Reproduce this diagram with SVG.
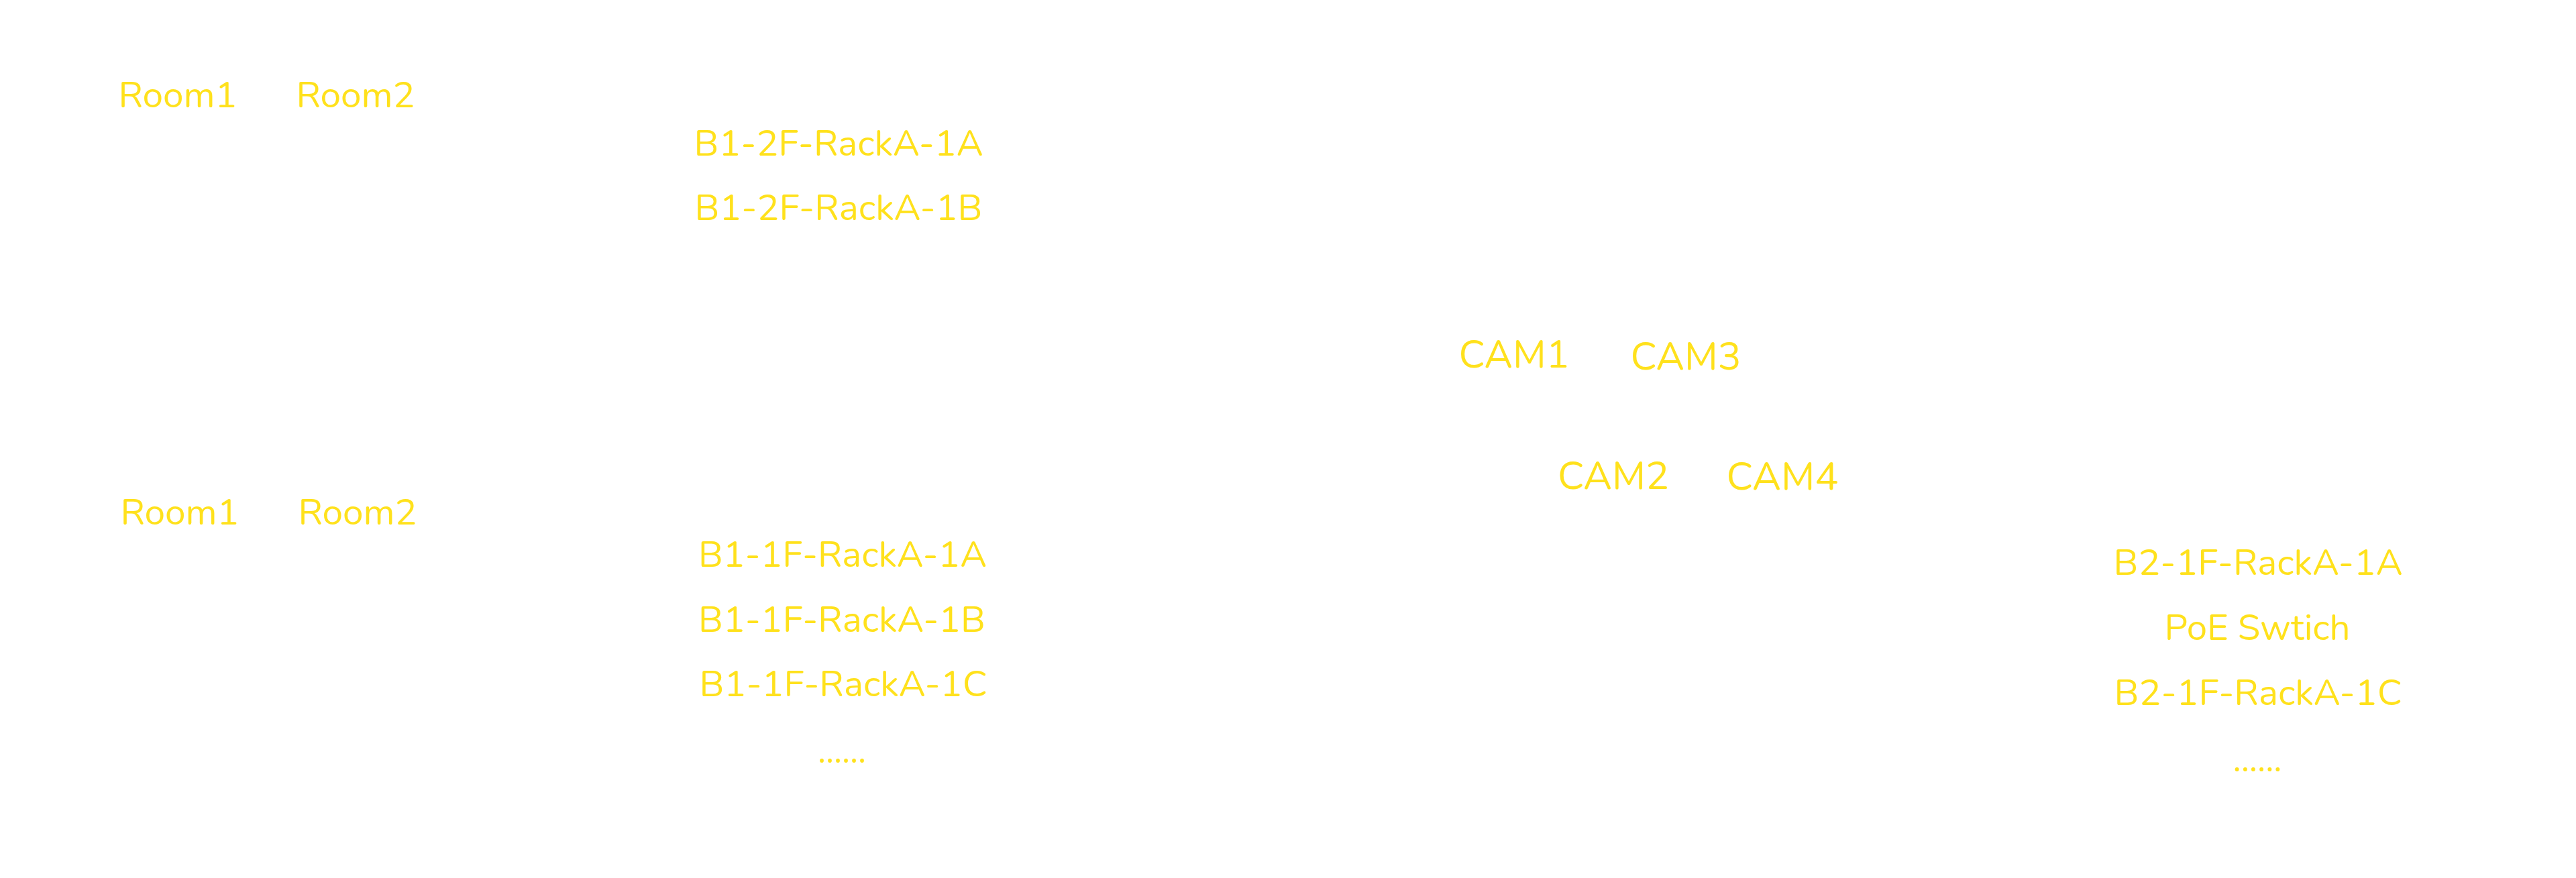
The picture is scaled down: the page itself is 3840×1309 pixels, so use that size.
<svg xmlns="http://www.w3.org/2000/svg" width="3840" height="1309" viewBox="0 0 3840 1309">
<style>
  .bg { fill: #ffffff; }
  .lbl { font-family: "Nunito", Lato, "Open Sans", "Noto Sans", sans-serif; font-size: 55px; fill: #FFE11C; text-anchor: middle; }
  .cam { font-size: 58px; }
</style>
<rect class="bg" x="0" y="0" width="3840" height="1309"/>
<g id="connectors"></g>
<g id="b1-2f">
  <g id="b1-2f-room1"><text class="lbl" x="265" y="160" textLength="177" lengthAdjust="spacingAndGlyphs">Room1</text></g>
  <g id="b1-2f-room2"><text class="lbl" x="530" y="160" textLength="177" lengthAdjust="spacingAndGlyphs">Room2</text></g>
  <g id="b1-2f-racka-1a"><text class="lbl" x="1250" y="232" textLength="431" lengthAdjust="spacingAndGlyphs">B1-2F-RackA-1A</text></g>
  <g id="b1-2f-racka-1b"><text class="lbl" x="1250" y="328" textLength="429" lengthAdjust="spacingAndGlyphs">B1-2F-RackA-1B</text></g>
</g>
<g id="b1-1f">
  <g id="b1-1f-room1"><text class="lbl" x="268" y="782" textLength="177" lengthAdjust="spacingAndGlyphs">Room1</text></g>
  <g id="b1-1f-room2"><text class="lbl" x="533" y="782" textLength="177" lengthAdjust="spacingAndGlyphs">Room2</text></g>
  <g id="b1-1f-racka-1a"><text class="lbl" x="1256" y="845" textLength="430" lengthAdjust="spacingAndGlyphs">B1-1F-RackA-1A</text></g>
  <g id="b1-1f-racka-1b"><text class="lbl" x="1255" y="942" textLength="428" lengthAdjust="spacingAndGlyphs">B1-1F-RackA-1B</text></g>
  <g id="b1-1f-racka-1c"><text class="lbl" x="1257" y="1038" textLength="429" lengthAdjust="spacingAndGlyphs">B1-1F-RackA-1C</text></g>
  <g id="b1-1f-more"><text class="lbl" x="1255" y="1137" textLength="72" lengthAdjust="spacingAndGlyphs">......</text></g>
</g>
<g id="cams">
  <g id="cam1"><text class="lbl cam" x="2257" y="548" textLength="165" lengthAdjust="spacingAndGlyphs">CAM1</text></g>
  <g id="cam3"><text class="lbl cam" x="2513" y="551" textLength="165" lengthAdjust="spacingAndGlyphs">CAM3</text></g>
  <g id="cam2"><text class="lbl cam" x="2405" y="729" textLength="166" lengthAdjust="spacingAndGlyphs">CAM2</text></g>
  <g id="cam4"><text class="lbl cam" x="2657" y="730" textLength="167" lengthAdjust="spacingAndGlyphs">CAM4</text></g>
</g>
<g id="b2-1f">
  <g id="b2-1f-racka-1a"><text class="lbl" x="3366" y="857" textLength="431" lengthAdjust="spacingAndGlyphs">B2-1F-RackA-1A</text></g>
  <g id="b2-1f-poe"><text class="lbl" x="3365" y="954" textLength="277" lengthAdjust="spacingAndGlyphs">PoE Swtich</text></g>
  <g id="b2-1f-racka-1c"><text class="lbl" x="3366" y="1051" textLength="429" lengthAdjust="spacingAndGlyphs">B2-1F-RackA-1C</text></g>
  <g id="b2-1f-more"><text class="lbl" x="3365" y="1150" textLength="73" lengthAdjust="spacingAndGlyphs">......</text></g>
</g>
</svg>
